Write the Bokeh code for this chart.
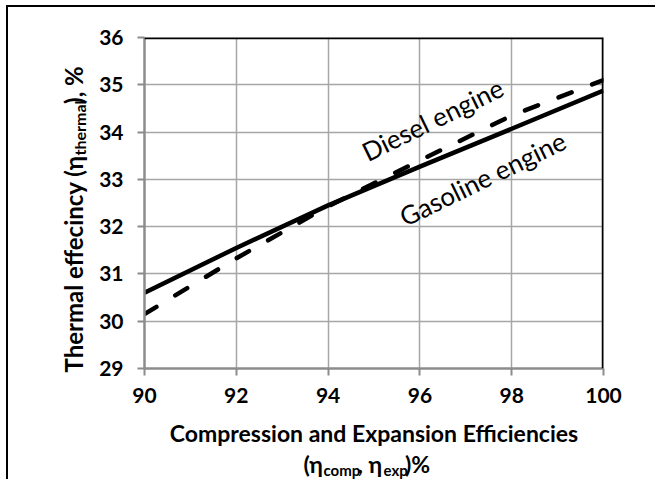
import math
from bokeh.plotting import figure
from bokeh.layouts import column
from bokeh.models import Range1d, FixedTicker, Span, Label
from bokeh.embed import file_html
from bokeh.resources import INLINE

# ---- data ----
x_vals = [90, 92, 94, 96, 98, 100]
gasoline = [30.6, 31.55, 32.45, 33.27, 34.07, 34.88]
diesel = [30.15, 31.33, 32.43, 33.4, 34.35, 35.1]
x_ticks = [90, 92, 94, 96, 98, 100]
y_ticks = [29, 30, 31, 32, 33, 34, 35, 36]
label_diesel = "Diesel engine"
label_gasoline = "Gasoline engine"
x_title_1 = "Compression and Expansion Efficiencies"
x_title_2 = "(η\u2003\u2002\u2005, η\u2003\u2005)%"          # gaps hold the subscripts
x_title_sub = ["comp", "exp"]
y_title = "Thermal effecincy (η\u2003\u2003\u2002\u2006), %"  # gap holds the subscript
y_title_sub = "thermal"

# ---- layout (picture coordinates) ----
BW = 2                       # outer border width (css)
OX, OY = 8, 7                # canvas origin in the picture
W, H = 647, 472
fl, fr, ft, fb = 144, 603, 37, 368   # frame in the picture
L, R, T, B = fl - OX, W - (fr - OX), ft - OY, H - (fb - OY)
FONT = "Lato"
GRAY = "#8c8c8c"

x0, x1 = x_ticks[0], x_ticks[-1]
y0, y1 = y_ticks[0], y_ticks[-1]
sx = (fr - fl) / (x1 - x0)
sy = (fb - ft) / (y1 - y0)


def dx(px):
    return x0 + (px - fl) / sx


def dy(py):
    return y0 + (fb - py) / sy


def lab(text, px, py, size, bold=True, angle=0, align="left"):
    return Label(x=dx(px), y=dy(py), text=text, angle=angle, angle_units="deg",
                 text_align=align, text_baseline="middle", text_font=FONT,
                 text_font_size=f"{size}px", text_font_style="bold" if bold else "normal",
                 text_color="black")


p = figure(width=W, height=H, output_backend="svg", toolbar_location=None,
           x_range=Range1d(x0, x1), y_range=Range1d(y0, y1),
           min_border_left=L, min_border_right=R, min_border_top=T, min_border_bottom=B)
p.outline_line_color = None
p.background_fill_color = "white"
p.border_fill_color = "white"

for ax in (p.xaxis[0], p.yaxis[0]):
    ax.axis_line_color = GRAY
    ax.axis_line_width = 2.5
    ax.major_tick_line_color = GRAY
    ax.major_tick_line_width = 2
    ax.major_tick_out = 7
    ax.major_tick_in = 0
    ax.minor_tick_line_color = None
    ax.major_label_text_font = FONT
    ax.major_label_text_font_size = "21px"
    ax.major_label_text_font_style = "bold"
    ax.major_label_text_color = "black"
p.xaxis.ticker = FixedTicker(ticks=x_ticks)
p.yaxis.ticker = FixedTicker(ticks=y_ticks)
p.xaxis.major_label_standoff = 12
p.yaxis.major_label_standoff = 14

p.xgrid.ticker = FixedTicker(ticks=x_ticks)
p.ygrid.ticker = FixedTicker(ticks=y_ticks)
p.grid.grid_line_color = "#a6a6a6"
p.grid.grid_line_width = 1.5

p.add_layout(Span(location=y1, dimension="width", line_color="black", line_width=3.5))
p.add_layout(Span(location=x1, dimension="height", line_color="black", line_width=3.5))

p.line(x_vals, gasoline, line_color="black", line_width=4.5)
p.line(x_vals, diesel, line_color="black", line_width=4.5, line_dash="14 22", line_cap="round")

p.add_layout(lab(label_diesel, 432, 119, 26, bold=False, angle=26, align="center"))
p.add_layout(lab(label_gasoline, 482, 178, 26, bold=False, angle=26, align="center"))

# x-axis title: two lines, the second with subscripts (side panels are not clipped)
xc = (fl + fr) / 2
p.add_layout(lab(x_title_1, xc, 432, 23, align="center"), "below")
x2_start = xc - 141 / 2
p.add_layout(lab(x_title_2, x2_start, 463, 23), "below")
p.add_layout(lab(x_title_sub[0], x2_start + 20, 469, 15), "above")
p.add_layout(lab(x_title_sub[1], x2_start + 80, 469, 15), "right")

# y-axis title (rotated) with subscript
p.add_layout(lab(y_title, 73, 372, 24, angle=90), "left")
p.add_layout(lab(y_title_sub, 79, 372 - 217, 16, angle=90), "left")

page = column(p, styles={"position": "relative", "left": "6px", "top": "5px",
                         "border-left": f"{BW}px solid black", "border-top": f"{BW}px solid black",
                         "margin-bottom": "-8px"})
open("out.html", "w").write(file_html(page, INLINE))
